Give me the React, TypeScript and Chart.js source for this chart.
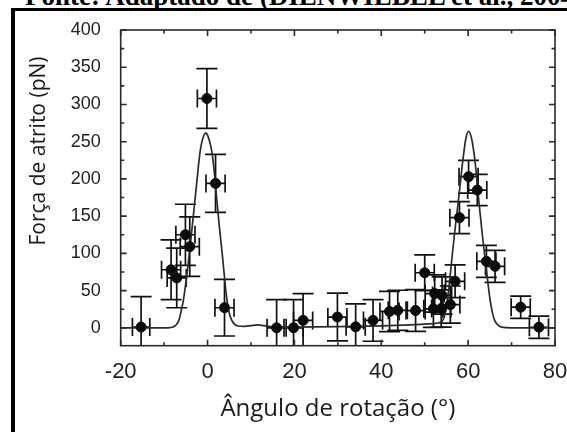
import React, { useEffect, useRef } from 'react';
import { Chart, registerables } from 'chart.js';

Chart.register(...registerables);

// Measured friction force (pN) vs rotation angle (degrees)
const angles = [-15.3, -8.4, -7.1, -5.1, -4.1, -0.15, 1.84, 3.9, 15.9, 19.8, 22.0, 29.9, 34.1, 38.1, 41.9, 43.8, 47.9, 50.0, 52.0, 52.3, 53.8, 54.0, 55.9, 57.0, 58.0, 60.1, 62.1, 64.2, 66.2, 72.1, 76.3];
const forces = [1, 78, 67, 125, 109, 308, 194, 27, 0, 0, 10, 14.5, 1.3, 10, 22, 23.5, 23.2, 74, 25.5, 46, 26, 43.5, 31.2, 62.5, 148, 203, 185, 89.3, 82.6, 27.7, 0.8];
const angleErr = [2.0, 2.2, 2.2, 2.2, 2.2, 2.2, 2.2, 2.2, 2.2, 2.2, 2.2, 2.2, 2.2, 2.2, 2.2, 2.2, 2.2, 2.2, 2.2, 2.2, 2.2, 2.2, 2.2, 2.2, 2.2, 2.2, 2.2, 2.2, 2.2, 2.2, 2.2];
const forceErr = [41, 40, 40, 41, 40, 40, 39, 38, 38, 38, 36, 32, 31, 28, 27, 27, 28, 24, 25, 25, 25, 25, 25, 22, 21.5, 22, 21, 21.5, 21.5, 15, 15];

// Fitted curve
const fitAngles = [-20, -12, -9, -8, -7.2, -6.5, -6.1, -5.6, -5.1, -4.5, -4.0, -3.5, -3.0, -2.4, -1.8, -1.3, -0.8, -0.45, -0.1, 0.4, 1.0, 1.5, 2.1, 2.7, 3.4, 4.0, 4.5, 5.0, 5.5, 6.2, 7.0, 8.5, 10, 11.5, 13, 15, 20, 30, 40, 45, 50, 53, 54, 54.5, 55, 55.5, 56, 56.8, 57.7, 58.3, 58.8, 59.5, 60.1, 60.8, 61.5, 62.0, 62.5, 63.3, 64.2, 65.0, 65.6, 66.1, 66.8, 67.7, 70, 80];
const fitForces = [0, 0, 0, 1, 4, 12, 22, 36, 56, 84, 110, 138, 166, 200, 233, 250, 259, 262, 260, 252, 236, 212, 174, 137, 98, 62, 36, 20, 11, 5, 2.5, 2, 3, 4, 3, 1.5, 1, 1.5, 2.5, 3.5, 5, 6.5, 9, 15, 27, 50, 78, 123, 168, 200, 226, 255, 264, 254, 228, 200, 168, 123, 78, 40, 20, 10, 4, 1, 0, 0];

const xTickValues = [-20, 0, 20, 40, 60, 80];
const xMinorValues = [-10, 10, 30, 50, 70];
const yTickValues = [0, 50, 100, 150, 200, 250, 300, 350, 400];
const yMinorValues = [25, 75, 125, 175, 225, 275, 325, 375];

const xTitle = 'Ângulo de rotação (°)';
const yTitle = 'Força de atrito (pN)';
const sourceText = 'Fonte: Adaptado de (DIENWIEBEL et al., 2004)';

const X_MIN = -20;
const X_MAX = 80;
const Y_MIN = -24;
const Y_MAX = 400;

const frameColor = '#2a2a2a';
const titleFont = '"Open Sans", Lato, sans-serif';
const tickFont = '"Liberation Sans", Arial, sans-serif';

const customPlugin = {
  id: 'errorBarsAndFrame',
  beforeDatasetsDraw(chart: any) {
    const { ctx, chartArea: a, scales } = chart;
    const xs = scales.x;
    const ys = scales.y;
    ctx.save();
    ctx.beginPath();
    ctx.rect(a.left, a.top, a.right - a.left, a.bottom - a.top);
    ctx.clip();
    ctx.strokeStyle = '#111';
    ctx.lineWidth = 1.7;
    const vCap = 10.5;
    const hCap = 9;
    for (let i = 0; i < angles.length; i++) {
      const px = xs.getPixelForValue(angles[i]);
      const py = ys.getPixelForValue(forces[i]);
      const x0 = xs.getPixelForValue(angles[i] - angleErr[i]);
      const x1 = xs.getPixelForValue(angles[i] + angleErr[i]);
      const y0 = ys.getPixelForValue(forces[i] - forceErr[i]);
      const y1 = ys.getPixelForValue(forces[i] + forceErr[i]);
      ctx.beginPath();
      ctx.moveTo(px, y0);
      ctx.lineTo(px, y1);
      ctx.moveTo(px - vCap, y0);
      ctx.lineTo(px + vCap, y0);
      ctx.moveTo(px - vCap, y1);
      ctx.lineTo(px + vCap, y1);
      ctx.moveTo(x0, py);
      ctx.lineTo(x1, py);
      ctx.moveTo(x0, py - hCap);
      ctx.lineTo(x0, py + hCap);
      ctx.moveTo(x1, py - hCap);
      ctx.lineTo(x1, py + hCap);
      ctx.stroke();
    }
    ctx.restore();
  },
  afterDatasetsDraw(chart: any) {
    const { ctx, chartArea: a, scales } = chart;
    const xs = scales.x;
    const ys = scales.y;
    ctx.save();
    ctx.strokeStyle = frameColor;
    ctx.lineWidth = 1.6;
    ctx.strokeRect(a.left, a.top, a.right - a.left, a.bottom - a.top);
    const major = 6;
    const minor = 3.5;
    ctx.beginPath();
    const xt = (v: number, len: number) => {
      const p = xs.getPixelForValue(v);
      ctx.moveTo(p, a.bottom);
      ctx.lineTo(p, a.bottom - len);
      ctx.moveTo(p, a.top);
      ctx.lineTo(p, a.top + len);
    };
    const yt = (v: number, len: number) => {
      const p = ys.getPixelForValue(v);
      ctx.moveTo(a.left, p);
      ctx.lineTo(a.left + len, p);
      ctx.moveTo(a.right, p);
      ctx.lineTo(a.right - len, p);
    };
    xTickValues.forEach((v) => xt(v, major));
    xMinorValues.forEach((v) => xt(v, minor));
    yTickValues.forEach((v) => yt(v, major));
    yMinorValues.forEach((v) => yt(v, minor));
    ctx.stroke();
    ctx.restore();
  },
  afterDraw(chart: any) {
    const { ctx, chartArea: a } = chart;
    ctx.save();
    ctx.translate(24.5, a.top + 121);
    ctx.rotate(-Math.PI / 2);
    ctx.font = `21px ${titleFont}`;
    ctx.fillStyle = '#1a1a1a';
    ctx.textAlign = 'center';
    ctx.textBaseline = 'middle';
    ctx.fillText(yTitle, 0, 0);
    ctx.restore();
  },
};

const noPad = (scale: any) => {
  scale.paddingLeft = 0;
  scale.paddingRight = 0;
  scale.paddingTop = 0;
  scale.paddingBottom = 0;
};

function FrictionChart() {
  const ref = useRef<HTMLCanvasElement | null>(null);
  useEffect(() => {
    if (!ref.current) return;
    const chart = new Chart(ref.current, {
      type: 'scatter',
      data: {
        datasets: [
          {
            label: 'Medidas',
            data: angles.map((a, i) => ({ x: a, y: forces[i] })),
            backgroundColor: '#0a0a0a',
            borderColor: '#0a0a0a',
            pointRadius: 5,
            borderWidth: 1,
            order: 0,
          },
          {
            label: 'Ajuste',
            type: 'line',
            data: fitAngles.map((a, i) => ({ x: a, y: fitForces[i] })),
            borderColor: '#2b2b2b',
            borderWidth: 1.7,
            pointRadius: 0,
            fill: false,
            cubicInterpolationMode: 'monotone',
            clip: 0,
            order: 1,
          } as any,
        ],
      },
      options: {
        responsive: false,
        devicePixelRatio: 1,
        animation: false,
        layout: { padding: { top: 19, right: 12, left: 0, bottom: 0 }, autoPadding: false } as any,
        plugins: {
          legend: { display: false },
          tooltip: { enabled: false },
          title: { display: false },
        },
        scales: {
          x: {
            type: 'linear',
            position: 'bottom',
            min: X_MIN,
            max: X_MAX,
            grid: { display: false, drawTicks: false },
            border: { display: false },
            afterBuildTicks: (scale: any) => {
              scale.ticks = xTickValues.map((v) => ({ value: v }));
            },
            afterFit: (scale: any) => {
              scale.height = 86.3;
              noPad(scale);
            },
            ticks: {
              padding: 13.5,
              maxRotation: 0,
              autoSkip: false,
              color: '#222',
              font: { family: tickFont, size: 22 },
            },
            title: {
              display: true,
              text: xTitle,
              color: '#1a1a1a',
              font: { family: titleFont, size: 24 },
              padding: { top: 0, bottom: 8.5 },
            },
          },
          y: {
            type: 'linear',
            min: Y_MIN,
            max: Y_MAX,
            grid: { display: false, drawTicks: false },
            border: { display: false },
            afterBuildTicks: (scale: any) => {
              scale.ticks = yTickValues.map((v) => ({ value: v }));
            },
            afterFit: (scale: any) => {
              scale.width = 105.7;
              noPad(scale);
            },
            ticks: {
              padding: 20,
              autoSkip: false,
              color: '#222',
              font: { family: tickFont, size: 18 },
            },
          },
        },
      } as any,
      plugins: [customPlugin],
    });
    return () => chart.destroy();
  }, []);
  return <canvas ref={ref} width={552} height={421} style={{ display: 'block', width: 552, height: 421 }} />;
}

export default function App() {
  return (
    <div style={{ position: 'fixed', left: 0, top: 0, width: 567, height: 432, overflow: 'hidden', background: '#fff' }}>
      <div
        style={{
          position: 'absolute',
          left: 25,
          top: -17,
          whiteSpace: 'nowrap',
          fontFamily: '"Liberation Serif", "Times New Roman", serif',
          fontWeight: 'bold',
          fontSize: 27,
          lineHeight: '27px',
          color: '#000',
        }}
      >
        {sourceText}
      </div>
      <div
        style={{
          position: 'absolute',
          left: 11,
          top: 8,
          width: 700,
          height: 600,
          borderLeft: '4px solid #000',
          borderTop: '3px solid #000',
          background: '#fff',
        }}
      />
      <div style={{ position: 'absolute', left: 15, top: 11 }}>
        <FrictionChart />
      </div>
    </div>
  );
}
